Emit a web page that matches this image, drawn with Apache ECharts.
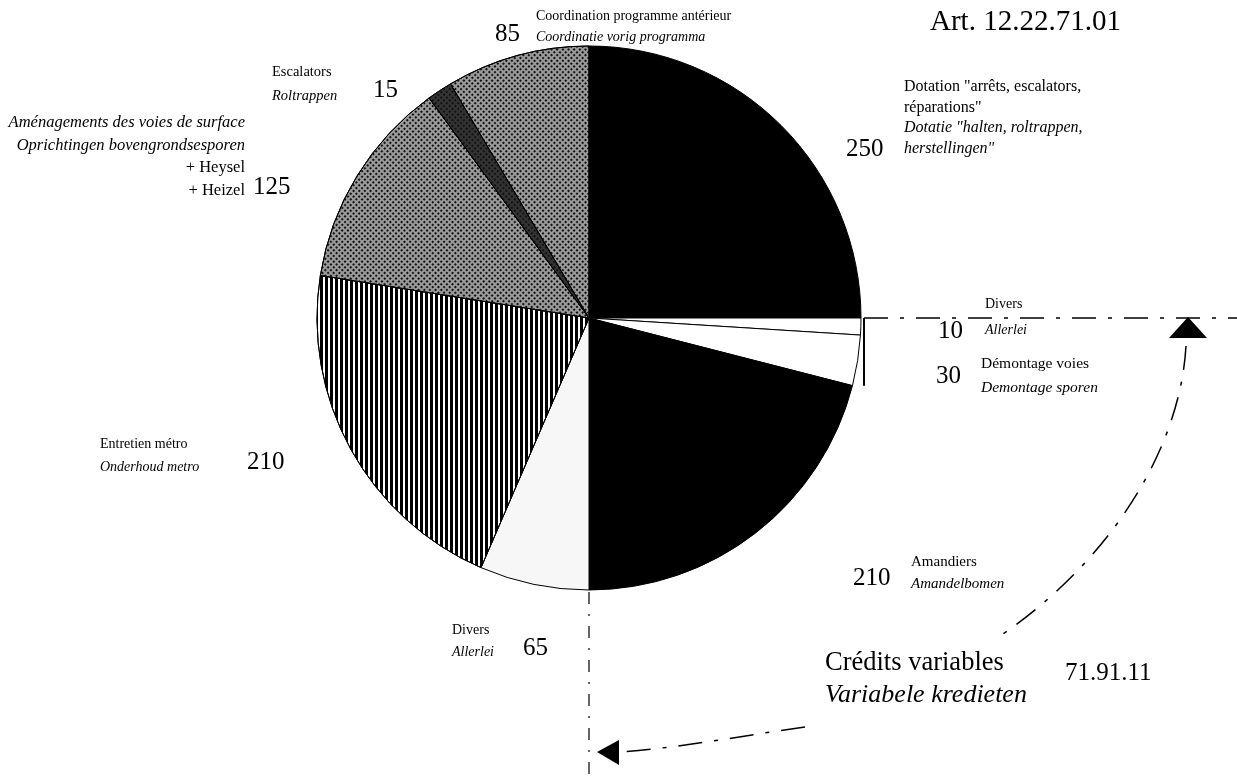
<!DOCTYPE html>
<html>
<head>
<meta charset="utf-8">
<script src="https://cdn.jsdelivr.net/npm/echarts@6/dist/echarts.min.js"></script>
<style>
html,body{margin:0;padding:0;background:#fff}
#chart{width:1237px;height:784px}
</style>
</head>
<body>
<div id="chart"></div>
<script>
// slices, clockwise from 12 o'clock
const values = [250, 10, 30, 210, 65, 210, 125, 15, 85];
const namesFr = ['Dotation "arrêts, escalators,\nréparations"', 'Divers', 'Démontage voies', 'Amandiers', 'Divers',
  'Entretien métro', 'Aménagements des voies de surface', 'Escalators', 'Coordination programme antérieur'];
const namesNl = ['Dotatie "halten, roltrappen,\nherstellingen"', 'Allerlei', 'Demontage sporen', 'Amandelbomen', 'Allerlei',
  'Onderhoud metro', 'Oprichtingen bovengrondsesporen', 'Roltrappen', 'Coordinatie vorig programma'];
const extraLines = ['', '', '', '', '', '', '+ Heysel\n+ Heizel', '', ''];
const title = 'Art. 12.22.71.01';
const creditFr = 'Crédits variables';
const creditNl = 'Variabele kredieten';
const creditArt = '71.91.11';

const SERIF = '"Liberation Serif", "Times New Roman", serif';
const CX = 589, CY = 318, R = 272;

// where the numbers go (left x, middle y)
const numAt = [[846,149],[938,331],[936,376],[853,578],[523,648],[247,462],[253,187],[373,90],[495,34]];
// name blocks: x, y of first line, align, line step, font size
const nameAt = [[904,87,'left',20.5,16],[985,304,'left',26,14],[981,364,'left',24,15.5],[911,562,'left',22,15],[452,630,'left',22,14],
  [100,444,'left',23,14],[245,123,'right',22.5,16.5],[272,72,'left',24,14.5],[536,16,'left',21,14]];

const stripes = {symbol:'rect', symbolSize:1, color:'#000', dashArrayX:[2.4,1.1], dashArrayY:[10,0], rotation:0};
const hatch = {symbol:'rect', symbolSize:1, color:'#111', dashArrayX:[1.5,1.5], dashArrayY:[1.5,1.5], rotation:Math.PI/4};
const fills = ['#000','#fff','#fff','#000','#f7f7f7','#fff','#9a9a9a','#333','#9a9a9a'];
const decals = [null,null,null,null,null,stripes,hatch,hatch,hatch];

const data = values.map((v,i)=>{
  const it = {value:v, name:namesFr[i], itemStyle:{color:fills[i]}};
  if (decals[i]) it.itemStyle.decal = decals[i];
  return it;
});

const graphics = [];
function txt(x, y, s, size, italic, align){
  graphics.push({type:'text', x:x, y:y, style:{text:s, fontSize:size, fontFamily:SERIF,
    fontStyle: italic ? 'italic' : 'normal', fill:'#000', align:align || 'left', verticalAlign:'middle'}});
}
values.forEach((v,i)=>{
  const [x,y,al,step,fs] = nameAt[i];
  let lines = [];
  namesFr[i].split('\n').forEach(s=>lines.push([s, i === 6]));
  namesNl[i].split('\n').forEach(s=>lines.push([s, true]));
  if (extraLines[i]) extraLines[i].split('\n').forEach(s=>lines.push([s, false]));
  lines.forEach((l,k)=>txt(x, y + k*step, l[0], fs, l[1], al));
});
txt(930, 22, title, 29, false);
txt(825, 663, creditFr, 26.5, false);
txt(825, 695, creditNl, 26, true);
txt(1065, 673, creditArt, 25, false);

// bracket + dash-dot annotation lines
const cum = (values[0]+values[1]+values[2]) / values.reduce((a,b)=>a+b,0) * 2*Math.PI;
const bx = CX + R + 3, by2 = CY - R*Math.cos(cum);
const dashStyle = {stroke:'#000', lineWidth:1.5, lineDash:[24,12,4,12], fill:null};
graphics.push({type:'line', shape:{x1:bx, y1:CY, x2:bx, y2:by2}, style:{stroke:'#000', lineWidth:2}});
graphics.push({type:'line', shape:{x1:bx, y1:CY, x2:1237, y2:CY}, style:dashStyle});
graphics.push({type:'polygon', shape:{points:[[1188,CY-1],[1169,CY+20],[1207,CY+20]]}, style:{fill:'#000'}});
graphics.push({type:'bezierCurve', shape:{x1:1186,y1:CY+28,cpx1:1180,cpy1:450,cpx2:1110,cpy2:560,x2:1003,y2:634}, style:dashStyle});
graphics.push({type:'bezierCurve', shape:{x1:805,y1:727,cpx1:740,cpy1:736,cpx2:680,cpy2:748,x2:618,y2:752}, style:dashStyle});
graphics.push({type:'polygon', shape:{points:[[597,752],[619,740],[619,765]]}, style:{fill:'#000'}});
graphics.push({type:'line', shape:{x1:CX, y1:CY+R+2, x2:CX, y2:784}, style:{stroke:'#000', lineWidth:1.2, lineDash:[12,10,2,10]}});

const chart = echarts.init(document.getElementById('chart'));
chart.setOption({
  animation:false,
  backgroundColor:'#fff',
  series:[{
    type:'pie',
    center:[CX, CY],
    radius:R,
    startAngle:90,
    clockwise:true,
    avoidLabelOverlap:false,
    silent:true,
    itemStyle:{borderColor:'#000', borderWidth:1},
    label:{show:true, formatter:'{c}', fontFamily:SERIF, fontSize:25, color:'#000'},
    labelLine:{show:false},
    labelLayout:function(p){
      const q = numAt[p.dataIndex];
      return {x:q[0], y:q[1], align:'left', verticalAlign:'middle'};
    },
    data:data
  }],
  graphic:{elements:graphics}
});
</script>
</body>
</html>
